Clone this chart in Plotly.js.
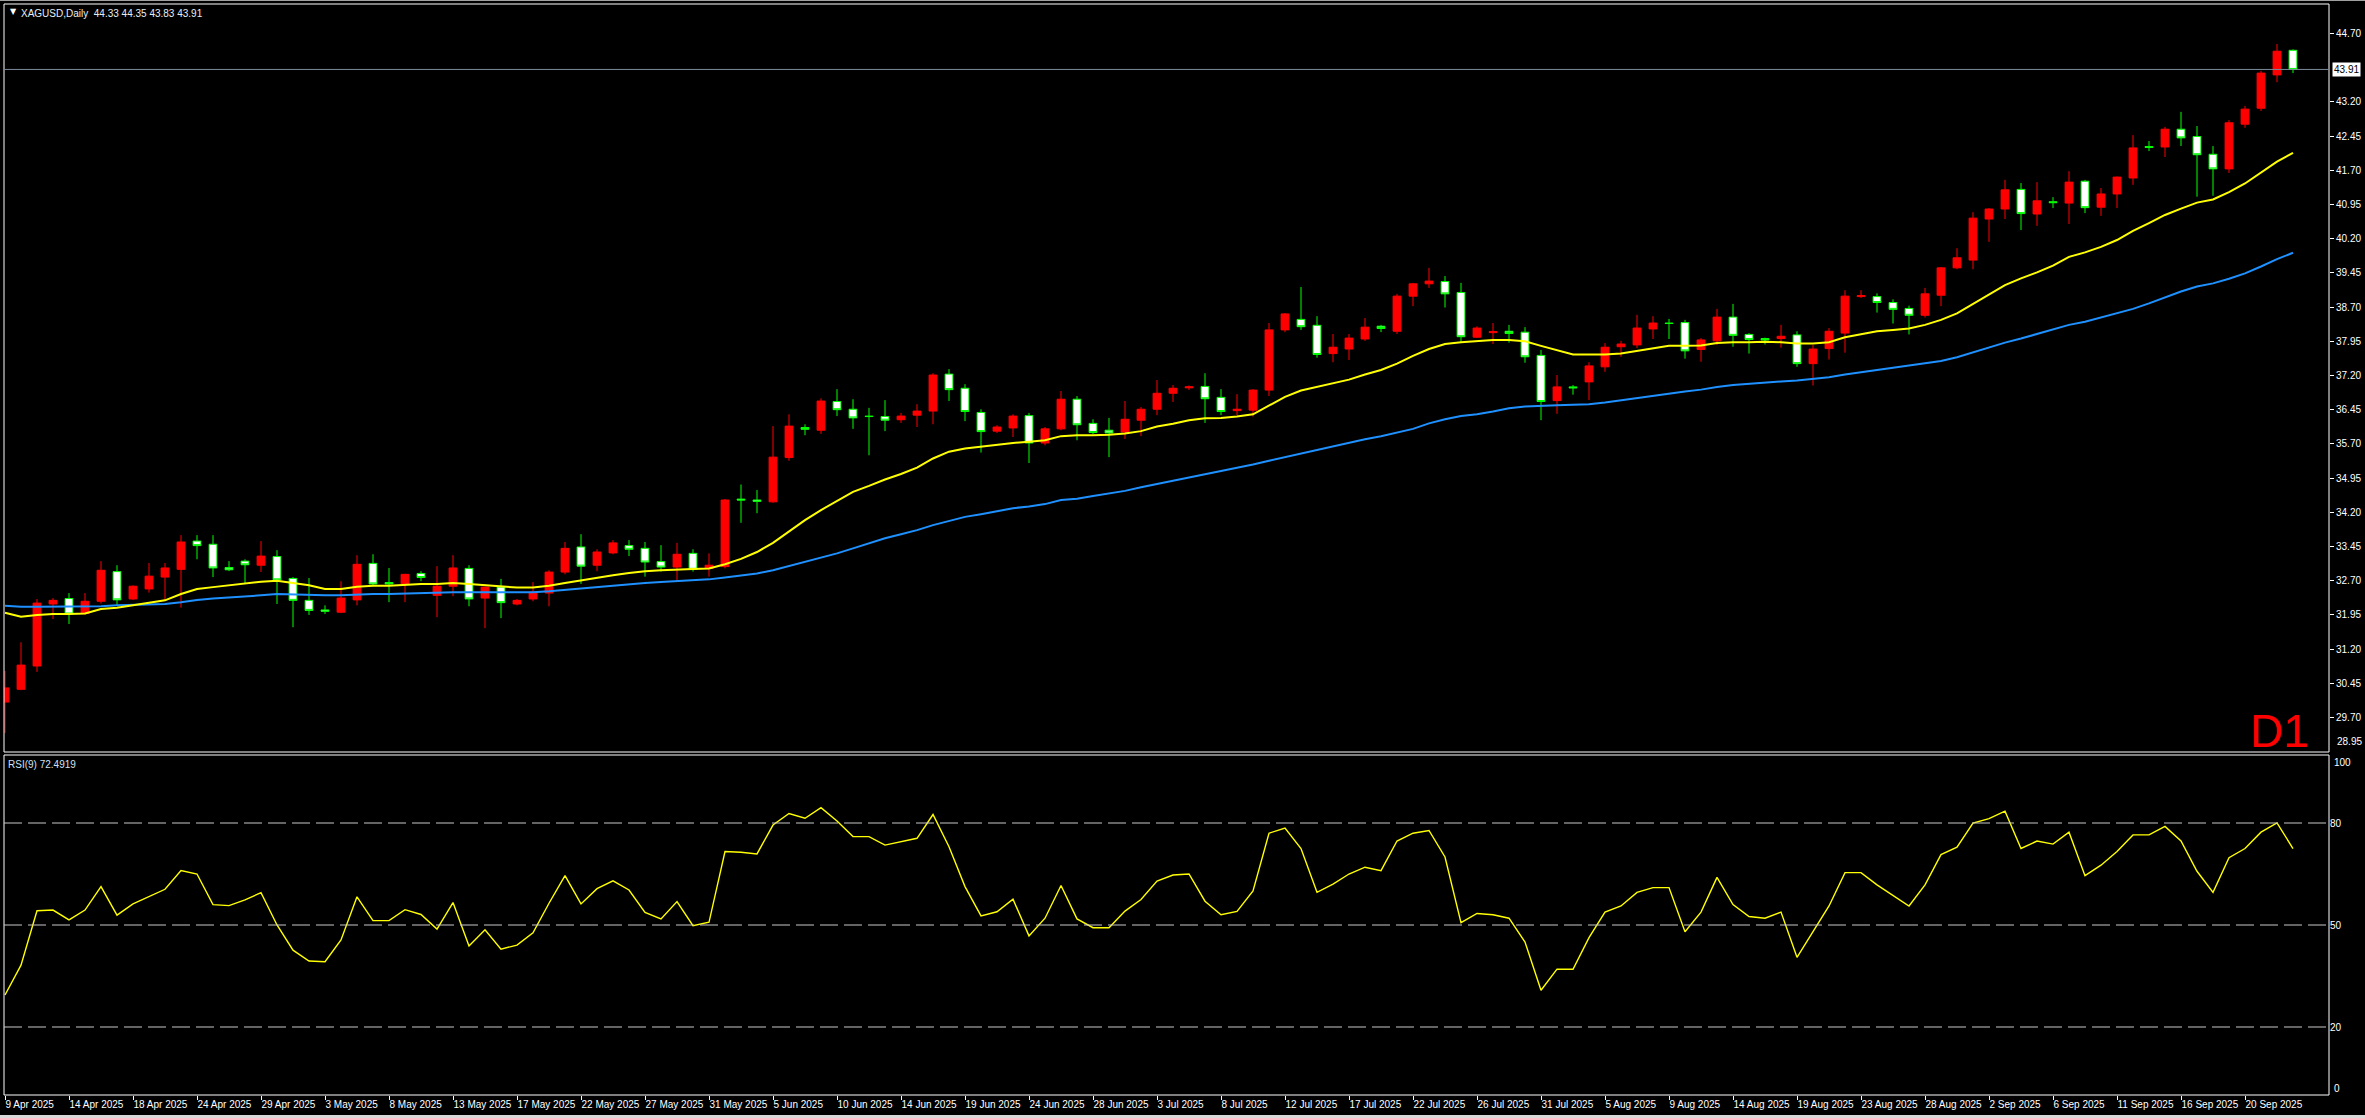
<!DOCTYPE html>
<html><head><meta charset="utf-8">
<script src="https://cdn.plot.ly/plotly-3.0.1.min.js"></script>
<style>html,body{margin:0;padding:0;background:#000;overflow:hidden}#chart{width:2365px;height:1118px}</style>
</head><body><div id="chart"></div>
<script>
// ---------- DATA ----------
const symbolTitle = 'XAGUSD,Daily';
const lastQuote = '44.33 44.35 43.83 43.91';
const rsiTitle = 'RSI(9) 72.4919';
const timeframe = 'D1';

const openP = [30.04,30.32,30.83,32.19,32.31,31.98,32.25,32.90,32.30,32.52,32.78,32.95,33.57,33.50,32.99,33.13,33.04,33.23,32.75,32.27,
32.06,32.01,32.28,33.08,32.66,32.63,32.86,32.38,32.58,32.97,32.32,32.56,32.19,32.30,32.43,32.89,33.44,33.04,33.31,33.47,
33.41,33.12,33.00,33.30,32.97,33.01,34.49,34.47,34.43,35.40,36.06,36.00,36.63,36.46,36.31,36.30,36.23,36.33,36.42,37.23,
36.92,36.39,35.98,36.05,36.32,35.72,36.03,36.68,36.15,36.00,35.96,36.22,36.46,36.81,36.93,36.96,36.72,36.43,36.44,36.88,
38.20,38.43,38.30,37.68,37.78,38.00,38.28,38.17,38.94,39.21,39.26,39.02,38.04,38.14,38.17,38.15,37.64,36.65,36.95,37.06,
37.39,37.83,37.87,38.22,38.35,38.36,37.77,37.96,38.48,38.10,38.01,38.01,38.09,37.46,37.79,38.13,38.93,38.93,38.80,38.67,
38.52,38.96,39.56,39.73,40.63,40.85,41.28,40.74,41.01,40.98,41.46,40.89,41.18,41.53,42.22,42.21,42.60,42.44,42.05,41.73,
42.71,43.06,43.79,44.33];
const highP = [30.72,31.35,32.30,32.32,32.43,32.43,33.13,33.04,32.60,33.09,33.09,33.70,33.70,33.70,33.13,33.17,33.57,33.37,32.78,32.76,
32.16,32.69,33.26,33.28,32.98,32.85,32.91,33.02,33.26,33.04,32.56,32.74,32.30,32.67,32.93,33.55,33.72,33.39,33.59,33.59,
33.55,33.48,33.53,33.39,33.30,34.49,34.81,34.69,36.09,36.35,36.13,36.70,36.90,36.68,36.49,36.66,36.38,36.57,37.25,37.34,
37.01,36.46,36.11,36.35,36.38,36.07,36.86,36.75,36.24,36.27,36.64,36.51,37.10,36.99,36.98,37.25,36.90,36.79,36.90,38.35,
38.57,39.14,38.50,38.11,38.11,38.46,38.31,38.99,39.23,39.56,39.38,39.23,38.28,38.35,38.31,38.26,37.76,37.21,36.99,37.49,
37.91,37.96,38.53,38.50,38.44,38.42,38.02,38.66,38.77,38.13,38.03,38.31,38.17,37.87,38.24,39.07,39.07,39.00,38.87,38.73,
39.12,39.58,39.99,40.78,40.87,41.49,41.42,41.44,41.11,41.68,41.49,41.31,41.56,42.47,42.34,42.65,42.98,42.67,42.23,42.80,
43.11,43.88,44.47,44.35];
const lowP = [29.36,30.30,30.70,31.86,31.75,31.96,32.20,32.16,32.28,32.44,32.27,32.11,33.17,32.78,32.91,32.65,32.89,32.19,31.68,31.95,
31.97,31.99,32.16,32.60,32.23,32.23,32.69,31.90,32.36,32.14,31.66,31.88,32.16,32.25,32.14,32.84,32.63,32.91,33.28,33.24,
32.79,32.90,32.68,32.90,32.79,32.97,33.97,34.18,34.41,35.33,35.89,35.92,36.31,36.03,35.45,35.98,36.16,36.07,36.13,36.64,
36.20,35.51,35.94,35.85,35.28,35.67,36.00,35.78,35.91,35.41,35.81,35.87,36.33,36.62,36.88,36.16,36.33,36.33,36.30,36.75,
38.15,38.20,37.59,37.49,37.54,37.96,38.15,38.11,38.72,39.12,38.69,37.93,38.02,37.89,37.92,37.48,36.22,36.36,36.78,36.66,
37.28,37.61,37.80,38.00,38.00,37.57,37.50,37.87,37.83,37.68,37.88,37.81,37.39,36.98,37.55,37.70,38.90,38.58,38.34,38.10,
38.47,38.72,39.53,39.53,40.13,40.63,40.39,40.48,40.87,40.52,40.76,40.70,40.87,41.38,42.12,41.99,42.23,41.12,41.14,41.64,
42.63,43.00,43.63,43.83];
const closeP = [30.35,30.85,32.21,32.27,31.97,32.25,32.93,32.28,32.58,32.80,32.98,33.55,33.47,32.98,32.94,33.05,33.24,32.72,32.27,32.05,
32.03,32.32,33.06,32.63,32.63,32.84,32.77,32.58,32.98,32.30,32.56,32.22,32.27,32.45,32.89,33.41,33.02,33.33,33.53,33.39,
33.11,33.00,33.28,32.95,33.04,34.47,34.47,34.44,35.41,36.09,36.02,36.64,36.45,36.27,36.30,36.22,36.31,36.42,37.21,36.89,
36.41,35.97,36.07,36.31,35.72,36.03,36.68,36.12,35.95,35.94,36.24,36.46,36.81,36.92,36.95,36.69,36.41,36.46,36.88,38.20,
38.55,38.27,37.66,37.82,38.02,38.26,38.23,38.94,39.21,39.27,38.99,38.05,38.24,38.16,38.12,37.61,36.63,36.95,36.93,37.41,
37.82,37.89,38.24,38.35,38.34,37.74,37.98,38.48,38.08,37.99,37.98,38.06,37.46,37.78,38.17,38.94,38.95,38.80,38.65,38.52,
38.99,39.56,39.78,40.65,40.85,41.27,40.75,41.03,40.99,41.44,40.88,41.18,41.55,42.19,42.20,42.60,42.41,42.04,41.73,42.74,
43.04,43.83,44.31,43.91];

// yellow moving average
const maYellow = [32.00,31.91,31.95,31.97,31.97,31.98,32.08,32.11,32.16,32.22,32.27,32.41,32.52,32.56,32.60,32.64,32.68,32.70,32.65,32.60,
32.52,32.52,32.57,32.59,32.59,32.61,32.63,32.63,32.65,32.63,32.60,32.57,32.55,32.55,32.59,32.65,32.71,32.77,32.82,32.87,
32.91,32.93,32.95,32.96,32.97,33.06,33.18,33.33,33.53,33.78,34.03,34.25,34.45,34.65,34.78,34.92,35.04,35.18,35.38,35.53,
35.60,35.64,35.69,35.72,35.75,35.78,35.87,35.89,35.89,35.90,35.93,35.98,36.08,36.14,36.22,36.26,36.27,36.30,36.35,36.54,
36.73,36.87,36.95,37.03,37.11,37.22,37.32,37.46,37.63,37.78,37.89,37.93,37.95,37.98,37.98,37.95,37.85,37.76,37.66,37.66,
37.66,37.68,37.74,37.80,37.85,37.85,37.86,37.91,37.93,37.93,37.94,37.93,37.90,37.90,37.93,38.04,38.11,38.17,38.20,38.23,
38.31,38.42,38.56,38.77,38.98,39.18,39.33,39.46,39.61,39.80,39.90,40.02,40.17,40.37,40.54,40.72,40.86,40.99,41.06,41.22,
41.41,41.65,41.89,42.08];
// blue moving average
const maBlue = [32.15,32.13,32.13,32.13,32.13,32.14,32.14,32.16,32.17,32.19,32.19,32.23,32.28,32.31,32.33,32.35,32.38,32.41,32.40,32.38,
32.38,32.38,32.40,32.41,32.41,32.42,32.44,32.45,32.45,32.45,32.45,32.45,32.45,32.45,32.47,32.50,32.53,32.57,32.60,32.63,
32.65,32.67,32.69,32.71,32.73,32.77,32.81,32.86,32.93,33.02,33.11,33.21,33.30,33.41,33.52,33.63,33.72,33.81,33.92,34.01,
34.10,34.16,34.23,34.29,34.33,34.38,34.47,34.50,34.56,34.61,34.67,34.75,34.82,34.89,34.96,35.03,35.10,35.17,35.25,35.33,
35.41,35.49,35.57,35.64,35.72,35.80,35.87,35.95,36.03,36.15,36.24,36.31,36.35,36.41,36.48,36.52,36.54,36.55,36.56,36.57,
36.61,36.66,36.71,36.76,36.81,36.85,36.89,36.95,36.99,37.02,37.05,37.07,37.09,37.12,37.16,37.22,37.27,37.32,37.36,37.41,
37.47,37.52,37.60,37.71,37.82,37.92,38.01,38.11,38.20,38.31,38.38,38.47,38.56,38.66,38.78,38.91,39.04,39.15,39.22,39.32,
39.44,39.59,39.75,39.89];
// RSI(9)
const rsiValues = [29.4,38.2,54.2,54.4,51.5,54.4,61.3,52.9,56.2,58.3,60.5,66.0,65.0,56.0,55.7,57.4,59.5,50.0,42.6,39.4,
39.2,45.6,58.3,51.3,51.3,54.5,53.1,48.8,56.6,43.8,48.6,42.9,44.1,47.7,56.4,64.5,56.2,60.7,63.0,60.3,
53.7,51.8,56.9,49.8,50.8,71.6,71.4,70.9,79.4,82.8,81.4,84.5,80.6,76.0,76.0,73.5,74.5,75.5,82.5,73.0,
61.3,52.7,53.9,57.6,46.8,52.0,61.6,51.8,49.2,49.2,54.1,57.5,62.9,64.7,65.0,57.0,53.0,54.0,60.0,77.0,
78.5,72.5,59.6,62.0,65.0,67.0,66.0,74.7,77.0,77.8,70.0,50.7,53.4,53.0,52.0,45.0,30.8,37.0,37.0,46.3,
53.8,55.6,59.6,61.0,61.0,48.0,53.8,64.0,56.0,52.5,52.0,53.8,40.5,48.0,55.6,65.4,65.4,61.8,58.7,55.6,
61.8,70.7,72.9,80.0,81.3,83.5,72.5,74.7,73.8,77.3,64.5,67.6,71.6,76.5,76.5,79.0,74.7,65.8,59.6,69.8,
72.5,77.3,80.0,72.49];

// date labels, one every 4 bars
const dateLabels = ['9 Apr 2025','14 Apr 2025','18 Apr 2025','24 Apr 2025','29 Apr 2025','3 May 2025','8 May 2025','13 May 2025',
'17 May 2025','22 May 2025','27 May 2025','31 May 2025','5 Jun 2025','10 Jun 2025','14 Jun 2025','19 Jun 2025','24 Jun 2025',
'28 Jun 2025','3 Jul 2025','8 Jul 2025','12 Jul 2025','17 Jul 2025','22 Jul 2025','26 Jul 2025','31 Jul 2025','5 Aug 2025',
'9 Aug 2025','14 Aug 2025','19 Aug 2025','23 Aug 2025','28 Aug 2025','2 Sep 2025','6 Sep 2025','11 Sep 2025','16 Sep 2025','20 Sep 2025'];
const priceTicks = [29.70,30.45,31.20,31.95,32.70,33.45,34.20,34.95,35.70,36.45,37.20,37.95,38.70,39.45,40.20,40.95,41.70,42.45,43.20,44.70];
const bottomPriceLabel = 28.95;
const rsiLevels = [20,50,80];
const rsiEdgeLabels = [100, 0];

// ---------- CHART ----------
const W = 2365, H = 1118;
const M = {l:4, r:36, t:4, b:23};
const PW = W - M.l - M.r, PH = H - M.t - M.b;
const px2x = p => (p - M.l) / PW;
const px2y = p => (H - M.b - p) / PH;

const idx = openP.map((_, i) => i);
const lastClose = closeP[closeP.length - 1];
const labelEvery = 4;
const tickPos = dateLabels.map((_, k) => k * labelEvery);

const traces = [
  {type:'candlestick', x:idx, open:openP, high:highP, low:lowP, close:closeP,
   xaxis:'x', yaxis:'y', whiskerwidth:0, hoverinfo:'skip',
   increasing:{line:{color:'#ff0000', width:1}, fillcolor:'#ff0000'},
   decreasing:{line:{color:'#00ff00', width:1}, fillcolor:'#ffffff'}},
  {type:'scatter', mode:'lines', x:idx, y:maBlue, xaxis:'x', yaxis:'y',
   line:{color:'#1e90ff', width:2}, hoverinfo:'skip'},
  {type:'scatter', mode:'lines', x:idx, y:maYellow, xaxis:'x', yaxis:'y',
   line:{color:'#ffff00', width:2}, hoverinfo:'skip'},
  {type:'scatter', mode:'lines', x:idx, y:rsiValues, xaxis:'x', yaxis:'y2',
   line:{color:'#ffff00', width:1.4}, hoverinfo:'skip'}
];

const tickFont = {family:'Liberation Sans, Arial, sans-serif', size:10, color:'#ffffff'};
const mainBottomPx = 752, rsiTopPx = 755;

const shapes = [
  {type:'rect', xref:'paper', yref:'y domain', x0:0, x1:1, y0:0, y1:1, line:{color:'#ffffff', width:1}},
  {type:'rect', xref:'paper', yref:'y2 domain', x0:0, x1:1, y0:0, y1:1, line:{color:'#ffffff', width:1}},
  {type:'line', xref:'paper', yref:'y', x0:0, x1:1, y0:lastClose, y1:lastClose, line:{color:'#7d8b99', width:1}},
  {type:'line', xref:'paper', yref:'paper', x0:px2x(0), x1:px2x(W), y0:px2y(0.5), y1:px2y(0.5), line:{color:'#a0a0a0', width:1}},
  {type:'rect', xref:'paper', yref:'paper', x0:px2x(0), x1:px2x(W), y0:px2y(1115), y1:px2y(H), line:{width:0}, fillcolor:'#d8d8d8'}
];
rsiLevels.forEach(v => shapes.push({type:'line', xref:'paper', yref:'y2', x0:0, x1:1, y0:v, y1:v,
  line:{color:'#c8c8c8', width:1, dash:'18px,6px'}}));

const annotations = [
  {xref:'paper', yref:'paper', x:px2x(8), y:px2y(12), text:'▼', showarrow:false, xanchor:'left', yanchor:'middle',
   font:{family:'DejaVu Sans, sans-serif', size:8, color:'#ffffff'}},
  {xref:'paper', yref:'paper', x:px2x(19), y:px2y(13), text:symbolTitle + '\u00a0\u00a0' + lastQuote, showarrow:false,
   xanchor:'left', yanchor:'middle', font:{family:'Liberation Sans, Arial, sans-serif', size:10, color:'#e6eef8'}},
  {xref:'paper', yref:'paper', x:px2x(6), y:px2y(764), text:rsiTitle, showarrow:false, xanchor:'left', yanchor:'middle',
   font:{family:'Liberation Sans, Arial, sans-serif', size:10, color:'#cfe0f5'}},
  {xref:'paper', yref:'paper', x:px2x(2279), y:px2y(731), text:timeframe, showarrow:false, xanchor:'center', yanchor:'middle',
   font:{family:'Liberation Sans, Arial, sans-serif', size:46, color:'#ff0000'}},
  {xref:'paper', yref:'y', x:1, y:lastClose, text:lastClose.toFixed(2), showarrow:false, xanchor:'left', yanchor:'middle',
   xshift:3, bgcolor:'#ffffff', borderpad:1, font:{family:'Liberation Sans, Arial, sans-serif', size:10, color:'#000000'}},
  {xref:'paper', yref:'paper', x:1, y:px2y(742), text:bottomPriceLabel.toFixed(2), showarrow:false, xanchor:'left', yanchor:'middle',
   xshift:6, font:tickFont},
  {xref:'paper', yref:'paper', x:1, y:px2y(762), text:String(rsiEdgeLabels[0]), showarrow:false, xanchor:'left', yanchor:'middle',
   xshift:3, font:tickFont},
  {xref:'paper', yref:'paper', x:1, y:px2y(1088), text:String(rsiEdgeLabels[1]), showarrow:false, xanchor:'left', yanchor:'middle',
   xshift:3, font:tickFont}
];

const layout = {
  width:W, height:H, paper_bgcolor:'#000000', plot_bgcolor:'#000000',
  margin:M, showlegend:false, hovermode:false,
  font:tickFont,
  xaxis:{anchor:'y2', domain:[0,1], range:[-0.0625, 145.25], tickvals:tickPos, ticktext:dateLabels,
    ticks:'outside', ticklen:4, tickcolor:'#ffffff', tickwidth:1, ticklabelposition:'outside right', tickangle:0,
    showgrid:false, zeroline:false, showline:false, rangeslider:{visible:false}, tickfont:tickFont, automargin:false},
  yaxis:{anchor:'x', side:'right', domain:[px2y(mainBottomPx), 1], range:[28.945, 45.345],
    tickvals:priceTicks, ticktext:priceTicks.map(v => v.toFixed(2)), ticks:'outside', ticklen:4, tickcolor:'#ffffff',
    showgrid:false, zeroline:false, showline:false, tickfont:tickFont, automargin:false},
  yaxis2:{anchor:'x', side:'right', domain:[0, px2y(rsiTopPx)], range:[0, 100],
    tickvals:rsiLevels, ticktext:rsiLevels.map(String), ticks:'', showgrid:false, zeroline:false, showline:false,
    tickfont:tickFont, automargin:false},
  shapes:shapes, annotations:annotations
};

Plotly.newPlot('chart', traces, layout, {staticPlot:true, displayModeBar:false});
</script>
</body></html>
